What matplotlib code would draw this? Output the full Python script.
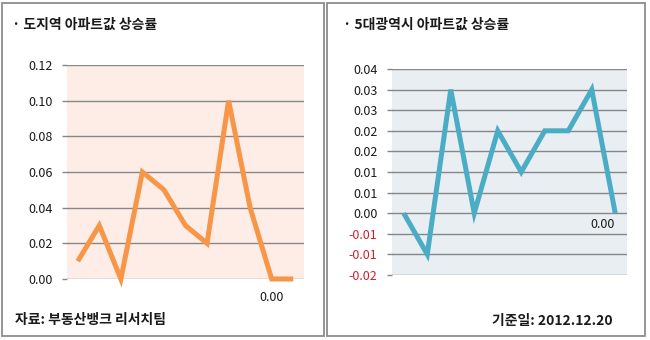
import matplotlib
matplotlib.use("Agg")
import matplotlib.pyplot as plt
from matplotlib.patches import Rectangle
from matplotlib.ticker import FixedLocator, FuncFormatter
import numpy as np

plt.rcParams['font.family'] = ['Noto Sans CJK KR', 'DejaVu Sans']

# Provincial areas: apartment price change (%)
do_values = [0.01, 0.03, 0.00, 0.06, 0.05, 0.03, 0.02, 0.10, 0.04, 0.00, 0.00]
do_ticks = [0.00, 0.02, 0.04, 0.06, 0.08, 0.10, 0.12]

# Five metropolitan cities: apartment price change (%)
metro_values = [0.00, -0.01, 0.03, 0.00, 0.02, 0.01, 0.02, 0.02, 0.03, 0.00]
metro_ticks = [-0.015, -0.010, -0.005, 0.000, 0.005, 0.010, 0.015,
               0.020, 0.025, 0.030, 0.035]

left_title = "· 도지역 아파트값 상승률"
right_title = "· 5대광역시 아파트값 상승률"
source_text = "자료: 부동산뱅크 리서치팀"
date_text = "기준일: 2012.12.20"

W, H = 650, 340
fig = plt.figure(figsize=(W / 100, H / 100), dpi=100)


def px_axes(x0, y0, x1, y1):
    return fig.add_axes([x0 / W, 1 - y1 / H, (x1 - x0) / W, (y1 - y0) / H])


def excel_round(v):
    # round half away from zero, two decimals
    s = np.sign(v)
    return s * np.floor(abs(v) * 100 + 0.5 + 1e-9) / 100


grid_color = "#878787"
text_color = "#1a1a1a"

# panel frames
for (x0, x1) in [(2, 324), (327, 645)]:
    fig.patches.append(Rectangle((x0 / W, 1 - 336 / H), (x1 - x0) / W, (336 - 3) / H,
                                 transform=fig.transFigure, fill=False,
                                 edgecolor="#8c8c8c", linewidth=1.3))


def style_axes(ax, ticks, bg, neg_red=False):
    ax.set_facecolor(bg)
    for s in ax.spines.values():
        s.set_visible(False)
    ax.yaxis.set_major_locator(FixedLocator(ticks))
    ax.yaxis.set_major_formatter(FuncFormatter(lambda v, p: f"{excel_round(v):.2f}"))
    ax.set_ylim(ticks[0], ticks[-1])
    ax.grid(axis="y", color=grid_color, linewidth=1.0)
    ax.set_axisbelow(True)
    ax.tick_params(axis="y", length=3.6, width=1, color=grid_color, pad=7,
                   labelsize=9, labelcolor=text_color)
    ax.set_xticks([])
    if neg_red:
        for lbl, t in zip(ax.get_yticklabels(), ticks):
            if t < 0:
                lbl.set_color("#d0202a")


# left chart
ax1 = px_axes(67, 65, 304, 279)
x1 = np.arange(len(do_values))
ax1.set_xlim(-0.5, len(do_values) - 0.5)
style_axes(ax1, do_ticks, "#fdede6")
ax1.plot(x1, do_values, color="#f79646", linewidth=3.6, solid_capstyle="butt",
         solid_joinstyle="miter", clip_on=False, zorder=3)
ax1.annotate(f"{do_values[9]:.2f}", (x1[9], do_values[9]), xytext=(0, -13),
             textcoords="offset points", ha="center", va="center", fontsize=9,
             color=text_color)

# right chart
ax2 = px_axes(392, 69, 627, 275)
x2 = np.arange(len(metro_values))
ax2.set_xlim(-0.5, len(metro_values) - 0.5)
style_axes(ax2, metro_ticks, "#e8eef2", neg_red=True)
ax2.plot(x2, metro_values, color="#4bacc6", linewidth=3.6, solid_capstyle="butt",
         solid_joinstyle="miter", clip_on=False, zorder=3)
ax2.annotate(f"{metro_values[9]:.2f}", (x2[9], metro_values[9]), xytext=(-9, -8),
             textcoords="offset points", ha="center", va="center", fontsize=9,
             color=text_color)

# texts
fig.text(12 / W, 1 - 25 / H, left_title, fontsize=10, fontweight="bold",
         ha="left", va="center", color=text_color)
fig.text(343 / W, 1 - 25 / H, right_title, fontsize=10, fontweight="bold",
         ha="left", va="center", color=text_color)
fig.text(15 / W, 1 - 320 / H, source_text, fontsize=10, fontweight="bold",
         ha="left", va="center", color=text_color)
fig.text(613 / W, 1 - 321 / H, date_text, fontsize=10, fontweight="bold",
         ha="right", va="center", color=text_color)

fig.savefig("out.png", dpi=100, facecolor="white")
